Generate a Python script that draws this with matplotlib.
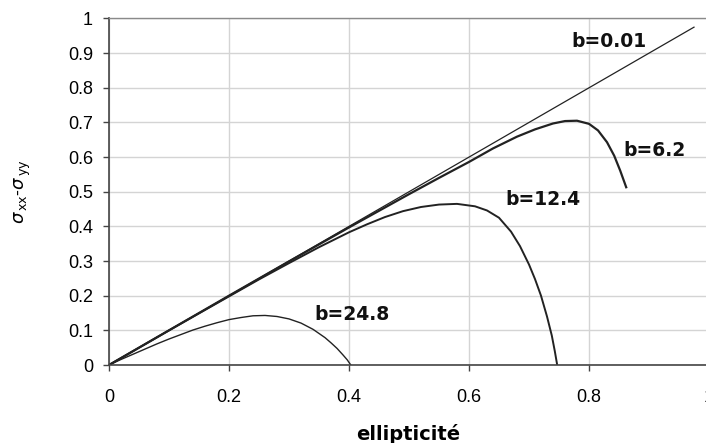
import matplotlib
matplotlib.use("Agg")
import matplotlib.pyplot as plt

# b = 0.01 (straight line)
x_b001 = [0, 0.975]
y_b001 = [0, 0.975]

# b = 6.2
x_b62 = [0, 0.1, 0.2, 0.3, 0.4, 0.5, 0.55, 0.6, 0.64, 0.68, 0.71, 0.74, 0.76, 0.78, 0.8,
         0.815, 0.83, 0.842, 0.852, 0.862]
y_b62 = [0, 0.1, 0.2, 0.299, 0.397, 0.493, 0.54, 0.586, 0.625, 0.659, 0.680, 0.697, 0.704, 0.705, 0.696,
         0.677, 0.643, 0.604, 0.561, 0.513]

# b = 12.4
x_b124 = [0, 0.1, 0.2, 0.25, 0.3, 0.35, 0.4, 0.43, 0.46, 0.49, 0.52, 0.55, 0.58, 0.61, 0.63,
          0.65, 0.67, 0.685, 0.7, 0.71, 0.72, 0.73, 0.738, 0.743, 0.747]
y_b124 = [0, 0.1, 0.198, 0.247, 0.294, 0.34, 0.383, 0.406, 0.427, 0.444, 0.456, 0.463, 0.465, 0.458, 0.446,
          0.425, 0.385, 0.343, 0.290, 0.248, 0.200, 0.140, 0.085, 0.04, 0]

# b = 24.8
x_b248 = [0, 0.02, 0.04, 0.06, 0.08, 0.1, 0.12, 0.14, 0.16, 0.18, 0.2, 0.22, 0.24, 0.26, 0.28,
          0.3, 0.32, 0.34, 0.36, 0.37, 0.38, 0.39, 0.397, 0.403]
y_b248 = [0, 0.016, 0.031, 0.046, 0.061, 0.075, 0.088, 0.101, 0.112, 0.122, 0.131, 0.137, 0.142, 0.143, 0.140,
          0.133, 0.121, 0.103, 0.079, 0.064, 0.048, 0.029, 0.015, 0]

labels = ["b=0.01", "b=6.2", "b=12.4", "b=24.8"]
label_pos = [(0.834, 0.935), (0.909, 0.62), (0.7225, 0.479), (0.405, 0.147)]

xticks = [0, 0.2, 0.4, 0.6, 0.8, 1]
xtick_labels = ["0", "0.2", "0.4", "0.6", "0.8", "1"]
yticks = [0, 0.1, 0.2, 0.3, 0.4, 0.5, 0.6, 0.7, 0.8, 0.9, 1]
ytick_labels = ["0", "0.1", "0.2", "0.3", "0.4", "0.5", "0.6", "0.7", "0.8", "0.9", "1"]

plt.rcParams['font.family'] = ['Liberation Sans', 'DejaVu Sans']

fig = plt.figure(figsize=(7.06, 4.43), dpi=100)
ax = fig.add_axes([109 / 706, 78 / 443, 600 / 706, 346.5 / 443])

c = '#222222'
ax.plot(x_b001, y_b001, color=c, lw=0.9)
ax.plot(x_b62, y_b62, color=c, lw=1.6)
ax.plot(x_b124, y_b124, color=c, lw=1.4)
ax.plot(x_b248, y_b248, color=c, lw=1.0)

for t, (lx, ly) in zip(labels, label_pos):
    ax.text(lx, ly, t, fontsize=13.5, fontweight='bold', ha='center', va='center',
            family=['DejaVu Sans'], color='#111111')

ax.set_xlim(0, 1)
ax.set_ylim(0, 1)
ax.set_xticks(xticks)
ax.set_xticklabels(xtick_labels)
ax.set_yticks(yticks)
ax.set_yticklabels(ytick_labels)
ax.tick_params(axis='both', labelsize=13, length=4.5, width=1, color='#444444', direction='out')
ax.tick_params(axis='x', pad=13)
ax.tick_params(axis='y', pad=7)
ax.grid(True, color='#d4d4d4', lw=1)
ax.set_axisbelow(True)
for s in ['left', 'bottom']:
    ax.spines[s].set_color('#444444')
    ax.spines[s].set_linewidth(1.2)
ax.spines['top'].set_color('#8a8a8a')
ax.spines['top'].set_linewidth(1)
ax.spines['right'].set_visible(False)

fig.text(408 / 706, 1 - 434 / 443, "ellipticité", fontsize=14, fontweight='bold',
         ha='center', va='center', family=['DejaVu Sans'])
fig.text(23 / 706, 1 - 192 / 443, r"$\sigma_{\,\mathrm{xx}}$-$\sigma_{\,\mathrm{yy}}$",
         fontsize=13, rotation=90, ha='center', va='center')

fig.savefig("out.png", dpi=100)
